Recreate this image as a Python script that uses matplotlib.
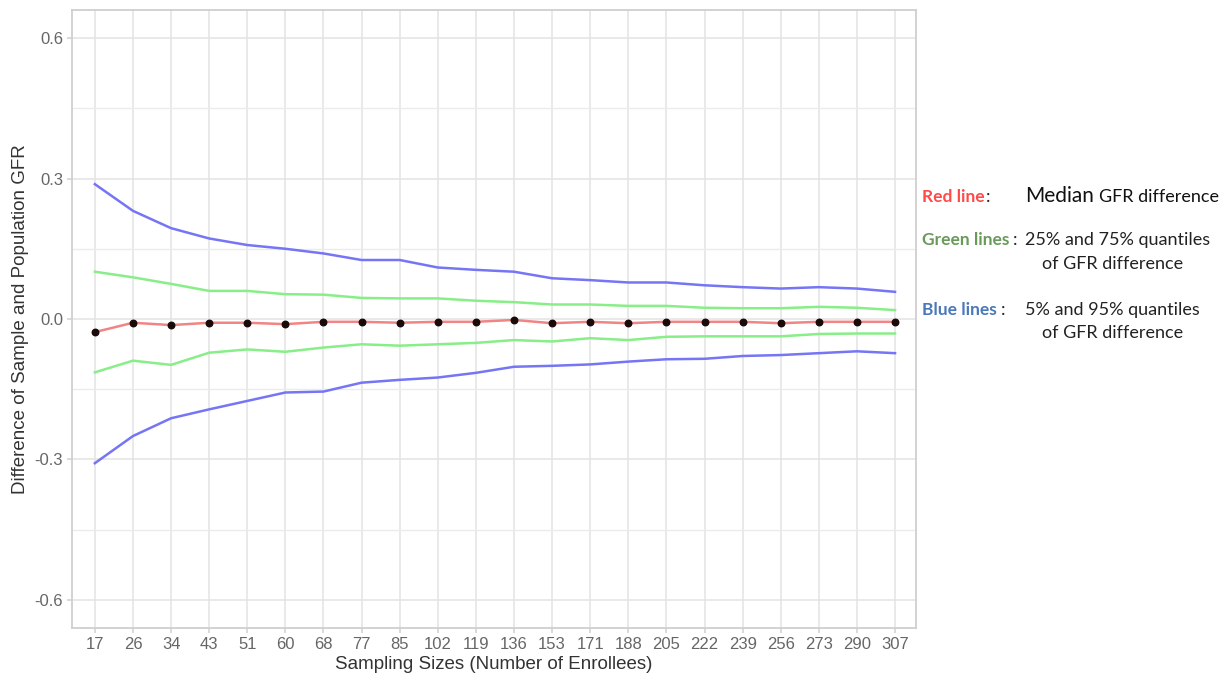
import matplotlib
matplotlib.use("Agg")
import matplotlib.pyplot as plt

sizes = ["17", "26", "34", "43", "51", "60", "68", "77", "85", "102", "119",
         "136", "153", "171", "188", "205", "222", "239", "256", "273", "290", "307"]
blue_upper = [0.288, 0.231, 0.194, 0.172, 0.158, 0.150, 0.140, 0.126, 0.126, 0.110, 0.105,
              0.101, 0.087, 0.083, 0.078, 0.078, 0.072, 0.068, 0.065, 0.068, 0.065, 0.058]
green_upper = [0.101, 0.089, 0.075, 0.060, 0.060, 0.053, 0.052, 0.045, 0.044, 0.044, 0.039,
               0.036, 0.031, 0.031, 0.028, 0.028, 0.024, 0.023, 0.023, 0.026, 0.024, 0.019]
median = [-0.028, -0.008, -0.013, -0.008, -0.008, -0.011, -0.006, -0.006, -0.008, -0.006, -0.006,
          -0.002, -0.009, -0.006, -0.009, -0.006, -0.006, -0.006, -0.009, -0.006, -0.006, -0.006]
green_lower = [-0.114, -0.089, -0.098, -0.072, -0.065, -0.070, -0.061, -0.054, -0.057, -0.054, -0.051,
               -0.045, -0.048, -0.041, -0.045, -0.038, -0.037, -0.037, -0.037, -0.032, -0.031, -0.031]
blue_lower = [-0.308, -0.250, -0.212, -0.193, -0.175, -0.157, -0.155, -0.136, -0.130, -0.125, -0.115,
              -0.102, -0.100, -0.097, -0.091, -0.086, -0.085, -0.079, -0.077, -0.073, -0.069, -0.073]
y_ticks = [-0.6, -0.3, 0.0, 0.3, 0.6]
y_minor = [-0.45, -0.15, 0.15, 0.45]

fig = plt.figure(figsize=(12.28, 6.81), dpi=100)
ax = fig.add_axes([72 / 1228, 1 - 628 / 681, (916 - 72) / 1228, (628 - 10) / 681])

x = list(range(len(sizes)))
blue = "#7575f5"
green = "#88ee88"
red = "#f08585"
ax.plot(x, blue_upper, color=blue, lw=1.8, zorder=3)
ax.plot(x, blue_lower, color=blue, lw=1.8, zorder=3)
ax.plot(x, green_upper, color=green, lw=1.8, zorder=3)
ax.plot(x, green_lower, color=green, lw=1.8, zorder=3)
ax.plot(x, median, color=red, lw=1.8, zorder=4)
ax.scatter(x, median, color="#1a0a0a", s=22, zorder=5)

ax.set_xlim(-0.6, len(sizes) - 0.45)
ax.set_ylim(-0.66, 0.66)
ax.set_xticks(x)
ax.set_xticklabels(sizes)
ax.set_yticks(y_ticks)
ax.set_yticklabels([f"{v:.1f}" for v in y_ticks])
ax.set_yticks(y_minor, minor=True)
ax.grid(True, which="major", color="#e3e3e3", lw=1.1, zorder=0)
ax.grid(True, which="minor", axis="y", color="#ebebeb", lw=1.0, zorder=0)
ax.set_axisbelow(True)
for s in ax.spines.values():
    s.set_color("#cfcfcf")
    s.set_linewidth(1.3)
ax.tick_params(which="major", colors="#cfcfcf", length=3.5, width=1.1,
               labelcolor="#666666", labelsize=12, pad=3)
ax.tick_params(which="minor", length=0)
for lab in ax.get_xticklabels() + ax.get_yticklabels():
    lab.set_family(["Liberation Sans Narrow", "Liberation Sans", "DejaVu Sans"])

ax.set_xlabel("Sampling Sizes (Number of Enrollees)", fontsize=13.5, color="#333333",
              family=["Liberation Sans Narrow", "Liberation Sans", "DejaVu Sans"], labelpad=3)
ax.set_ylabel("Difference of Sample and Population GFR", fontsize=13.5, color="#333333",
              family=["Liberation Sans Narrow", "Liberation Sans", "DejaVu Sans"], labelpad=4)

fnt = ["Lato", "DejaVu Sans"]
def T(px, py, s, **kw):
    fig.text(px / 1228, 1 - py / 681, s, va="center", ha="left", family=fnt, **kw)

T(922, 197, "Red line", color="#ff4a4a", fontsize=12.5, fontweight="bold")
T(986, 197, ":", color="#222222", fontsize=13)
T(1025, 196, "Median", color="#111111", fontsize=15)
T(1099, 197, "GFR difference", color="#111111", fontsize=13)
T(922, 240, "Green lines", color="#6a9a5a", fontsize=12.5, fontweight="bold")
T(1013, 240, ":", color="#222222", fontsize=13)
T(1025, 240, "25% and 75% quantiles", color="#222222", fontsize=13)
T(1042, 264, "of GFR difference", color="#222222", fontsize=13)
T(922, 310, "Blue lines", color="#4a78b8", fontsize=12.5, fontweight="bold")
T(1001, 310, ":", color="#222222", fontsize=13)
T(1025, 310, "5% and 95% quantiles", color="#222222", fontsize=13)
T(1042, 333, "of GFR difference", color="#222222", fontsize=13)

fig.savefig("out.png", dpi=100, facecolor="white")
